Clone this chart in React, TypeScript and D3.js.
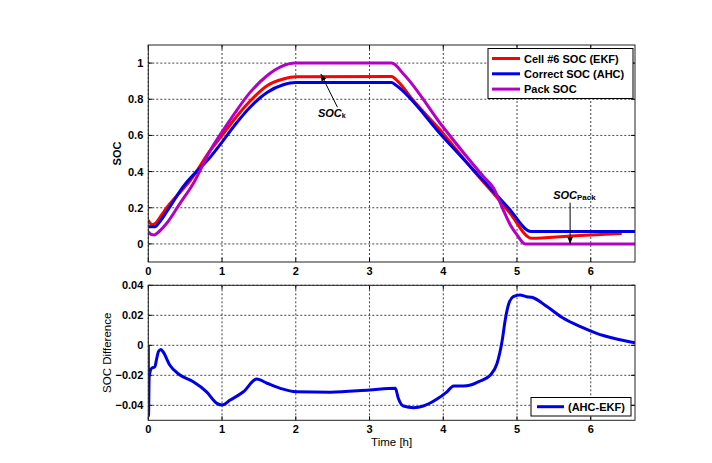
import React from "react";
import * as d3 from "d3";

const xTicks = [0, 1, 2, 3, 4, 5, 6];
const topYTicks = [0, 0.2, 0.4, 0.6, 0.8, 1];
const botYTicks = [-0.04, -0.02, 0, 0.02, 0.04];

const legendTop = ["Cell #6 SOC (EKF)", "Correct SOC (AHC)", "Pack SOC"];
const legendBottom = ["(AHC-EKF)"];

const redSOC: [number, number][] = [
  [0, 0.132], [0.03, 0.112], [0.06, 0.107], [0.1, 0.115], [0.18, 0.16], [0.25, 0.2],
  [0.4, 0.272], [0.57, 0.352], [0.84, 0.517], [1.0, 0.6], [1.15, 0.68], [1.38, 0.79],
  [1.61, 0.875], [1.83, 0.912], [2.0, 0.925], [3.3, 0.926], [3.38, 0.9], [3.6, 0.79],
  [4.0, 0.61], [4.4, 0.41], [4.68, 0.28], [4.89, 0.178], [5.2, 0.031], [5.72, 0.044], [6.42, 0.058],
];

const blueSOC: [number, number][] = [
  [0, 0.095], [0.09, 0.095], [0.15, 0.12], [0.25, 0.178], [0.47, 0.315], [0.84, 0.48],
  [1.0, 0.563], [1.15, 0.645], [1.38, 0.756], [1.61, 0.838], [1.83, 0.88], [2.0, 0.893],
  [3.3, 0.893], [3.35, 0.88], [4.0, 0.59], [4.68, 0.29], [4.89, 0.196], [5.19, 0.068], [6.6, 0.068],
];

const packSOC: [number, number][] = [
  [0, 0.068], [0.04, 0.052], [0.08, 0.05], [0.15, 0.07], [0.25, 0.114], [0.43, 0.224],
  [0.61, 0.334], [0.84, 0.517], [1.0, 0.62], [1.15, 0.71], [1.38, 0.838], [1.61, 0.93],
  [1.8, 0.98], [2.0, 1.0], [3.3, 1.0], [3.46, 0.94], [4.0, 0.645], [4.55, 0.37], [4.68, 0.31],
  [4.8, 0.2], [4.91, 0.105], [5.0, 0.05], [5.11, 0.0], [6.6, 0.0],
];

const diffSOC: [number, number][] = [
  [0, 0], [0.003, -0.047], [0.012, -0.021], [0.045, -0.0153], [0.09, -0.0143], [0.11, -0.0098],
  [0.14, -0.004], [0.17, -0.0028], [0.2, -0.0043], [0.29, -0.0131], [0.43, -0.0198], [0.61, -0.0243],
  [0.79, -0.031], [0.93, -0.0387], [1.0, -0.0398], [1.11, -0.0365], [1.29, -0.031], [1.47, -0.0225],
  [1.61, -0.0253], [1.79, -0.0287], [2.0, -0.031], [2.47, -0.0313], [3.0, -0.0298], [3.35, -0.0287],
  [3.39, -0.0353], [3.46, -0.0405], [3.6, -0.0416], [3.73, -0.0405], [3.91, -0.036], [4.05, -0.031],
  [4.14, -0.0271], [4.27, -0.0271], [4.37, -0.0265], [4.5, -0.0238], [4.64, -0.0198], [4.73, -0.012],
  [4.8, 0.0035], [4.84, 0.0169], [4.89, 0.028], [4.95, 0.0324], [5.04, 0.0335], [5.13, 0.0324],
  [5.2, 0.032], [5.41, 0.0257], [5.63, 0.018], [5.86, 0.0124], [6.08, 0.008], [6.31, 0.0047], [6.6, 0.0017],
];

const RED = "#ff0000";
const BLUE = "#0000e6";
const MAG = "#b400c4";
const FONT = "'Liberation Sans', Arial, sans-serif";

const X0 = 148.3, X1 = 635;
const x = d3.scaleLinear().domain([0, 6.6]).range([X0, X1]);
const yTop = d3.scaleLinear().domain([-0.1, 1.1]).range([262, 45]);
const yBot = d3.scaleLinear().domain([-0.05, 0.04]).range([420.3, 285.3]);

function Panel({ y, yTicks, fmt, clipId }: { y: d3.ScaleLinear<number, number>; yTicks: number[]; fmt: (v: number) => string; clipId: string }) {
  const [yb, yt] = y.range();
  return (
    <g>
      <defs>
        <clipPath id={clipId}>
          <rect x={X0} y={yt} width={X1 - X0} height={yb - yt} />
        </clipPath>
      </defs>
      <rect x={X0} y={yt} width={X1 - X0} height={yb - yt} fill="#fff" />
      {xTicks.map((t) => (
        <line key={"gx" + t} x1={x(t)} x2={x(t)} y1={yt} y2={yb} stroke="#444" strokeWidth={1} strokeDasharray="2,2" />
      ))}
      {yTicks.map((t) => (
        <line key={"gy" + t} x1={X0} x2={X1} y1={y(t)} y2={y(t)} stroke="#444" strokeWidth={1} strokeDasharray="2,2" />
      ))}
      {xTicks.map((t) => (
        <g key={"tx" + t}>
          <line x1={x(t)} x2={x(t)} y1={yb} y2={yb - 4} stroke="#000" />
          <line x1={x(t)} x2={x(t)} y1={yt} y2={yt + 4} stroke="#000" />
          <text x={x(t)} y={yb + 13} textAnchor="middle" fontFamily={FONT} fontWeight="bold" fontSize={11}>{t}</text>
        </g>
      ))}
      {yTicks.map((t) => (
        <g key={"ty" + t}>
          <line x1={X0} x2={X0 + 4} y1={y(t)} y2={y(t)} stroke="#000" />
          <line x1={X1} x2={X1 - 4} y1={y(t)} y2={y(t)} stroke="#000" />
          <text x={X0 - 5} y={y(t) + 4} textAnchor="end" fontFamily={FONT} fontWeight="bold" fontSize={11}>{fmt(t)}</text>
        </g>
      ))}
    </g>
  );
}

export default function App() {
  const lineTop = d3.line<[number, number]>().x((d) => x(d[0])).y((d) => yTop(d[1])).curve(d3.curveMonotoneX);
  const lineBot = d3.line<[number, number]>().x((d) => x(d[0])).y((d) => yBot(d[1])).curve(d3.curveMonotoneX);
  const fmtTop = (v: number) => (v === 0 ? "0" : v === 1 ? "1" : d3.format(".1f")(v));
  const fmtBot = (v: number) => (v === 0 ? "0" : d3.format(".2f")(v).replace("0.", "0.").replace("-0.", "-0."));
  const legColors = [RED, BLUE, MAG];

  const kTip = [x(2.34), yTop(0.94)];
  const kTail = [x(2.565), yTop(0.756)];
  const pTop = [x(5.72), yTop(0.228)];
  const pTip = [x(5.72), yTop(0.0)];

  return (
    <svg width={712} height={463} style={{ position: "absolute", left: 0, top: 0, background: "#fff" }}>
      <defs>
        <marker id="arr" viewBox="0 0 10 10" refX="10" refY="5" markerWidth="7" markerHeight="7" orient="auto">
          <path d="M0,1 L10,5 L0,9 z" fill="#000" />
        </marker>
      </defs>
      <rect width={712} height={463} fill="#fff" />
      <Panel y={yTop} yTicks={topYTicks} fmt={fmtTop} clipId="clipTop" />
      <g clipPath="url(#clipTop)" fill="none" strokeWidth={3} strokeLinejoin="round">
        <path d={lineTop(redSOC) || ""} stroke={RED} />
        <path d={lineTop(blueSOC) || ""} stroke={BLUE} />
        <path d={lineTop(packSOC) || ""} stroke={MAG} />
      </g>
      <rect x={X0} y={45} width={X1 - X0} height={262 - 45} fill="none" stroke="#222" strokeWidth={1} />

      {/* annotations */}
      <line x1={kTail[0]} y1={kTail[1]} x2={kTip[0]} y2={kTip[1]} stroke="#000" strokeWidth={1} markerEnd="url(#arr)" />
      <text x={x(2.3)} y={yTop(0.704)} fontFamily={FONT} fontWeight="bold" fontStyle="italic" fontSize={11}>
        SOC<tspan fontSize={7} fontStyle="normal" dy={1}>k</tspan>
      </text>
      <line x1={pTop[0]} y1={pTop[1]} x2={pTip[0]} y2={pTip[1]} stroke="#000" strokeWidth={1} markerEnd="url(#arr)" />
      <text x={x(5.49)} y={yTop(0.248)} fontFamily={FONT} fontWeight="bold" fontStyle="italic" fontSize={11}>
        SOC<tspan fontSize={8} fontStyle="normal" dy={1}>Pack</tspan>
      </text>

      {/* top legend */}
      <rect x={488} y={48.5} width={145} height={50} fill="#fff" stroke="#000" strokeWidth={1} />
      {legendTop.map((s, i) => (
        <g key={s}>
          <line x1={492} x2={520} y1={58.5 + i * 15.3} y2={58.5 + i * 15.3} stroke={legColors[i]} strokeWidth={3} />
          <text x={524} y={62.5 + i * 15.3} fontFamily={FONT} fontWeight="bold" fontSize={11}>{s}</text>
        </g>
      ))}
      <text transform={`translate(121,${(45 + 262) / 2}) rotate(-90)`} textAnchor="middle" fontFamily={FONT} fontWeight="bold" fontSize={11}>SOC</text>

      <Panel y={yBot} yTicks={botYTicks} fmt={fmtBot} clipId="clipBot" />
      <g clipPath="url(#clipBot)" fill="none" strokeWidth={3} strokeLinejoin="round">
        <path d={lineBot(diffSOC) || ""} stroke={BLUE} />
      </g>
      <rect x={X0} y={285.3} width={X1 - X0} height={420.3 - 285.3} fill="none" stroke="#222" strokeWidth={1} />
      <rect x={531} y={397.5} width={100} height={18.5} fill="#fff" stroke="#000" strokeWidth={1} />
      <line x1={537} x2={564} y1={406.7} y2={406.7} stroke={BLUE} strokeWidth={3} />
      <text x={568} y={410.7} fontFamily={FONT} fontWeight="bold" fontSize={11}>{legendBottom[0]}</text>
      <text transform={`translate(111,${(285.3 + 420.3) / 2}) rotate(-90)`} textAnchor="middle" fontFamily={FONT} fontSize={11.5}>SOC Difference</text>
      <text x={(X0 + X1) / 2} y={446} textAnchor="middle" fontFamily={FONT} fontSize={11.5}>Time [h]</text>
    </svg>
  );
}
